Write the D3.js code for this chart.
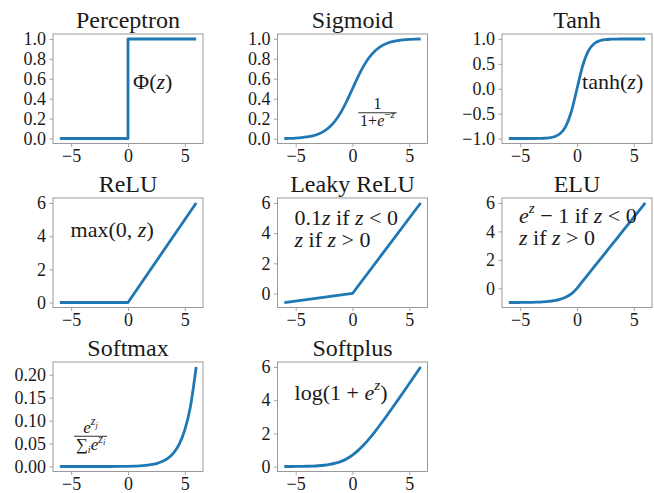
<!DOCTYPE html>
<html>
<head>
<meta charset="utf-8">
<script src="https://cdn.jsdelivr.net/npm/d3@7"></script>
<style>
  body { margin: 0; background: #fff; }
  svg { display: block; font-family: "Liberation Serif", "DejaVu Serif", serif; }
</style>
</head>
<body>
<div id="chart"></div>
<script>
/* Panel titles */
const titles = ["Perceptron", "Sigmoid", "Tanh", "ReLU", "Leaky ReLU", "ELU", "Softmax", "Softplus"];

/* z samples for the smooth curves */
const zSmooth = [-6, -5.5, -5, -4.5, -4, -3.5, -3, -2.5, -2, -1.5, -1, -0.5, 0,
                 0.5, 1, 1.5, 2, 2.5, 3, 3.5, 4, 4.5, 5, 5.5, 6];

/* Series values */
const perceptronZ = [-6, 0, 0, 6];
const perceptronY = [0, 0, 1, 1];
const sigmoidY = [0.0025, 0.0041, 0.0067, 0.0110, 0.0180, 0.0293, 0.0474, 0.0759, 0.1192, 0.1824, 0.2689, 0.3775, 0.5,
                  0.6225, 0.7311, 0.8176, 0.8808, 0.9241, 0.9526, 0.9707, 0.9820, 0.9890, 0.9933, 0.9959, 0.9975];
const tanhY = [-1.0, -1.0, -0.9999, -0.9998, -0.9993, -0.9982, -0.9951, -0.9866, -0.9640, -0.9051, -0.7616, -0.4621, 0,
               0.4621, 0.7616, 0.9051, 0.9640, 0.9866, 0.9951, 0.9982, 0.9993, 0.9998, 0.9999, 1.0, 1.0];
const reluZ = [-6, 0, 6];
const reluY = [0, 0, 6];
const leakyZ = [-6, 0, 6];
const leakyY = [-0.6, 0, 6];
const eluY = [-0.9975, -0.9959, -0.9933, -0.9889, -0.9817, -0.9698, -0.9502, -0.9179, -0.8647, -0.7769, -0.6321, -0.3935, 0,
              0.5, 1, 1.5, 2, 2.5, 3, 3.5, 4, 4.5, 5, 5.5, 6];
const softmaxY = [0, 0, 0, 0, 0, 0, 0, 0, 0.0001, 0.0001, 0.0002, 0.0003, 0.0005,
                  0.0009, 0.0015, 0.0024, 0.0040, 0.0065, 0.0108, 0.0178, 0.0294, 0.0484, 0.0798, 0.1316, 0.2170];
const softplusY = [0.0025, 0.0041, 0.0067, 0.0110, 0.0181, 0.0298, 0.0486, 0.0789, 0.1269, 0.2014, 0.3133, 0.4741, 0.6931,
                   0.9741, 1.3133, 1.7014, 2.1269, 2.5789, 3.0486, 3.5298, 4.0181, 4.5110, 5.0067, 5.5041, 6.0025];

/* Tick values and labels */
const xTicks = [-5, 0, 5];
const xTickLabels = ["\u22125", "0", "5"];
const unitTicks = [0, 0.2, 0.4, 0.6, 0.8, 1.0];
const unitTickLabels = ["0.0", "0.2", "0.4", "0.6", "0.8", "1.0"];
const tanhTicks = [-1, -0.5, 0, 0.5, 1];
const tanhTickLabels = ["\u22121.0", "\u22120.5", "0.0", "0.5", "1.0"];
const sixTicks = [0, 2, 4, 6];
const sixTickLabels = ["0", "2", "4", "6"];
const softmaxTicks = [0, 0.05, 0.10, 0.15, 0.20];
const softmaxTickLabels = ["0.00", "0.05", "0.10", "0.15", "0.20"];

const zip = (xs, ys) => xs.map((x, i) => [x, ys[i]]);

const panels = [
  { pts: zip(perceptronZ, perceptronY), smooth: false, yt: unitTicks, yl: unitTickLabels },
  { pts: zip(zSmooth, sigmoidY), smooth: true, yt: unitTicks, yl: unitTickLabels },
  { pts: zip(zSmooth, tanhY), smooth: true, yt: tanhTicks, yl: tanhTickLabels },
  { pts: zip(reluZ, reluY), smooth: false, yt: sixTicks, yl: sixTickLabels },
  { pts: zip(leakyZ, leakyY), smooth: false, yt: sixTicks, yl: sixTickLabels },
  { pts: zip(zSmooth, eluY), smooth: true, yt: sixTicks, yl: sixTickLabels },
  { pts: zip(zSmooth, softmaxY), smooth: true, yt: softmaxTicks, yl: softmaxTickLabels },
  { pts: zip(zSmooth, softplusY), smooth: true, yt: sixTicks, yl: sixTickLabels }
];

/* Annotation text pieces: [text, italic, scale, raise(em)] */
const notes = [
  { type: "line", x: 0.45, lines: [{ y: 0.5, parts: [["\u03a6(", ""], ["z", "i"], [")", ""]] }] },
  { type: "frac", cx: 2.2, y: 0.26, size: 16,
    num: [["1", ""]],
    den: [["1+", ""], ["e", "i"], ["\u2212", "", 0.7, 0.45], ["z", "i", 0.7, 0.45]] },
  { type: "line", x: 0.45, lines: [{ y: 0, parts: [["tanh(", ""], ["z", "i"], [")", ""]] }] },
  { type: "line", x: -5.05, lines: [{ y: 3.95, parts: [["max(0, ", ""], ["z", "i"], [")", ""]] }] },
  { type: "line", x: -5.1, lines: [
      { y: 4.55, parts: [["0.1", ""], ["z", "i"], [" if ", ""], ["z", "i"], [" < 0", ""]] },
      { y: 3.1, parts: [["z", "i"], [" if ", ""], ["z", "i"], [" > 0", ""]] }] },
  { type: "line", x: -5.1, lines: [
      { y: 4.58, parts: [["e", "i"], ["z", "i", 0.7, 0.45], [" \u2212 1 if ", ""], ["z", "i"], [" < 0", ""]] },
      { y: 3.03, parts: [["z", "i"], [" if ", ""], ["z", "i"], [" > 0", ""]] }] },
  { type: "frac", cx: -3.3, y: 0.066, size: 17,
    num: [["e", "i"], ["z", "i", 0.7, 0.45], ["j", "i", 0.5, 0.3]],
    den: [["\u2211", "", 1.0, 0], ["i", "i", 0.6, -0.2], ["e", "i"], ["z", "i", 0.7, 0.4], ["i", "i", 0.5, 0.28]] },
  { type: "line", x: -5.1, lines: [{ y: 4.0, parts: [["log(1 + ", ""], ["e", "i"], ["z", "i", 0.7, 0.45], [")", ""]] }] }
];

const width = 654, height = 493;
const grid = { left: 53, top: 34, colStep: 224.5, rowStep: 164, w: 150, h: 109.5 };
const blue = "#1f77b4", spine = "#9a9a9a", ink = "#1a1a1a";

const svg = d3.select("#chart").append("svg")
  .attr("width", width).attr("height", height);

/* Writes a run of math-like text pieces with raised/lowered parts */
const addMath = (g, x, y, parts, size, anchor) => {
  const t = g.append("text")
    .attr("x", x).attr("y", y)
    .attr("font-size", size)
    .attr("fill", ink)
    .attr("text-anchor", anchor || "start");
  let cur = 0;
  parts.forEach(([s, it, sc, up]) => {
    const shift = (up || 0) * size;
    t.append("tspan")
      .attr("dy", -(shift - cur))
      .attr("font-size", size * (sc || 1))
      .attr("font-style", it === "i" ? "italic" : "normal")
      .text(s);
    cur = shift;
  });
  return t;
};

panels.forEach((p, i) => {
  const col = i % 3, row = Math.floor(i / 3);
  const x0 = grid.left + col * grid.colStep;
  const y0 = grid.top + row * grid.rowStep;

  const yExt = d3.extent(p.pts, d => d[1]);
  const pad = (yExt[1] - yExt[0]) * 0.05;

  const x = d3.scaleLinear().domain([-6.6, 6.6]).range([x0, x0 + grid.w]);
  const y = d3.scaleLinear().domain([yExt[0] - pad, yExt[1] + pad]).range([y0 + grid.h, y0]);

  const g = svg.append("g");

  /* Axes */
  const xAxis = g.append("g")
    .attr("transform", `translate(0,${y0 + grid.h})`)
    .call(d3.axisBottom(x).tickValues(xTicks).tickFormat((d, k) => xTickLabels[k])
      .tickSize(3.5).tickPadding(2.5));
  const yAxis = g.append("g")
    .attr("transform", `translate(${x0},0)`)
    .call(d3.axisLeft(y).tickValues(p.yt).tickFormat((d, k) => p.yl[k])
      .tickSize(3.5).tickPadding(3.5));
  [xAxis, yAxis].forEach(a => {
    a.select(".domain").remove();
    a.selectAll(".tick line").attr("stroke", spine).attr("stroke-width", 0.9);
    a.selectAll(".tick text")
      .attr("font-family", "Liberation Serif, DejaVu Serif, serif")
      .attr("font-size", 18).attr("fill", ink);
  });

  /* Curve */
  g.append("path")
    .datum(p.pts)
    .attr("fill", "none")
    .attr("stroke", blue)
    .attr("stroke-width", 2.8)
    .attr("stroke-linejoin", "round")
    .attr("d", d3.line()
      .x(d => x(d[0])).y(d => y(d[1]))
      .curve(p.smooth ? d3.curveMonotoneX : d3.curveLinear));

  /* Frame */
  g.append("rect")
    .attr("x", x0).attr("y", y0)
    .attr("width", grid.w).attr("height", grid.h)
    .attr("fill", "none").attr("stroke", spine).attr("stroke-width", 1);

  /* Title */
  g.append("text")
    .attr("x", x0 + grid.w / 2).attr("y", y0 - 6)
    .attr("text-anchor", "middle")
    .attr("font-size", 24).attr("fill", ink)
    .text(titles[i]);

  /* Annotation */
  const n = notes[i];
  if (n.type === "line") {
    n.lines.forEach(l => addMath(g, x(n.x), y(l.y), l.parts, 22));
  } else {
    const cx = x(n.cx), by = y(n.y);
    const num = addMath(g, cx, by - 3.5, n.num, n.size, "middle");
    const den = addMath(g, cx, by + n.size * 0.8, n.den, n.size, "middle");
    const bw = Math.max(num.node().getBBox().width, den.node().getBBox().width) + 3;
    g.append("line")
      .attr("x1", cx - bw / 2).attr("x2", cx + bw / 2)
      .attr("y1", by).attr("y2", by)
      .attr("stroke", ink).attr("stroke-width", 0.9);
  }
});
</script>
</body>
</html>
